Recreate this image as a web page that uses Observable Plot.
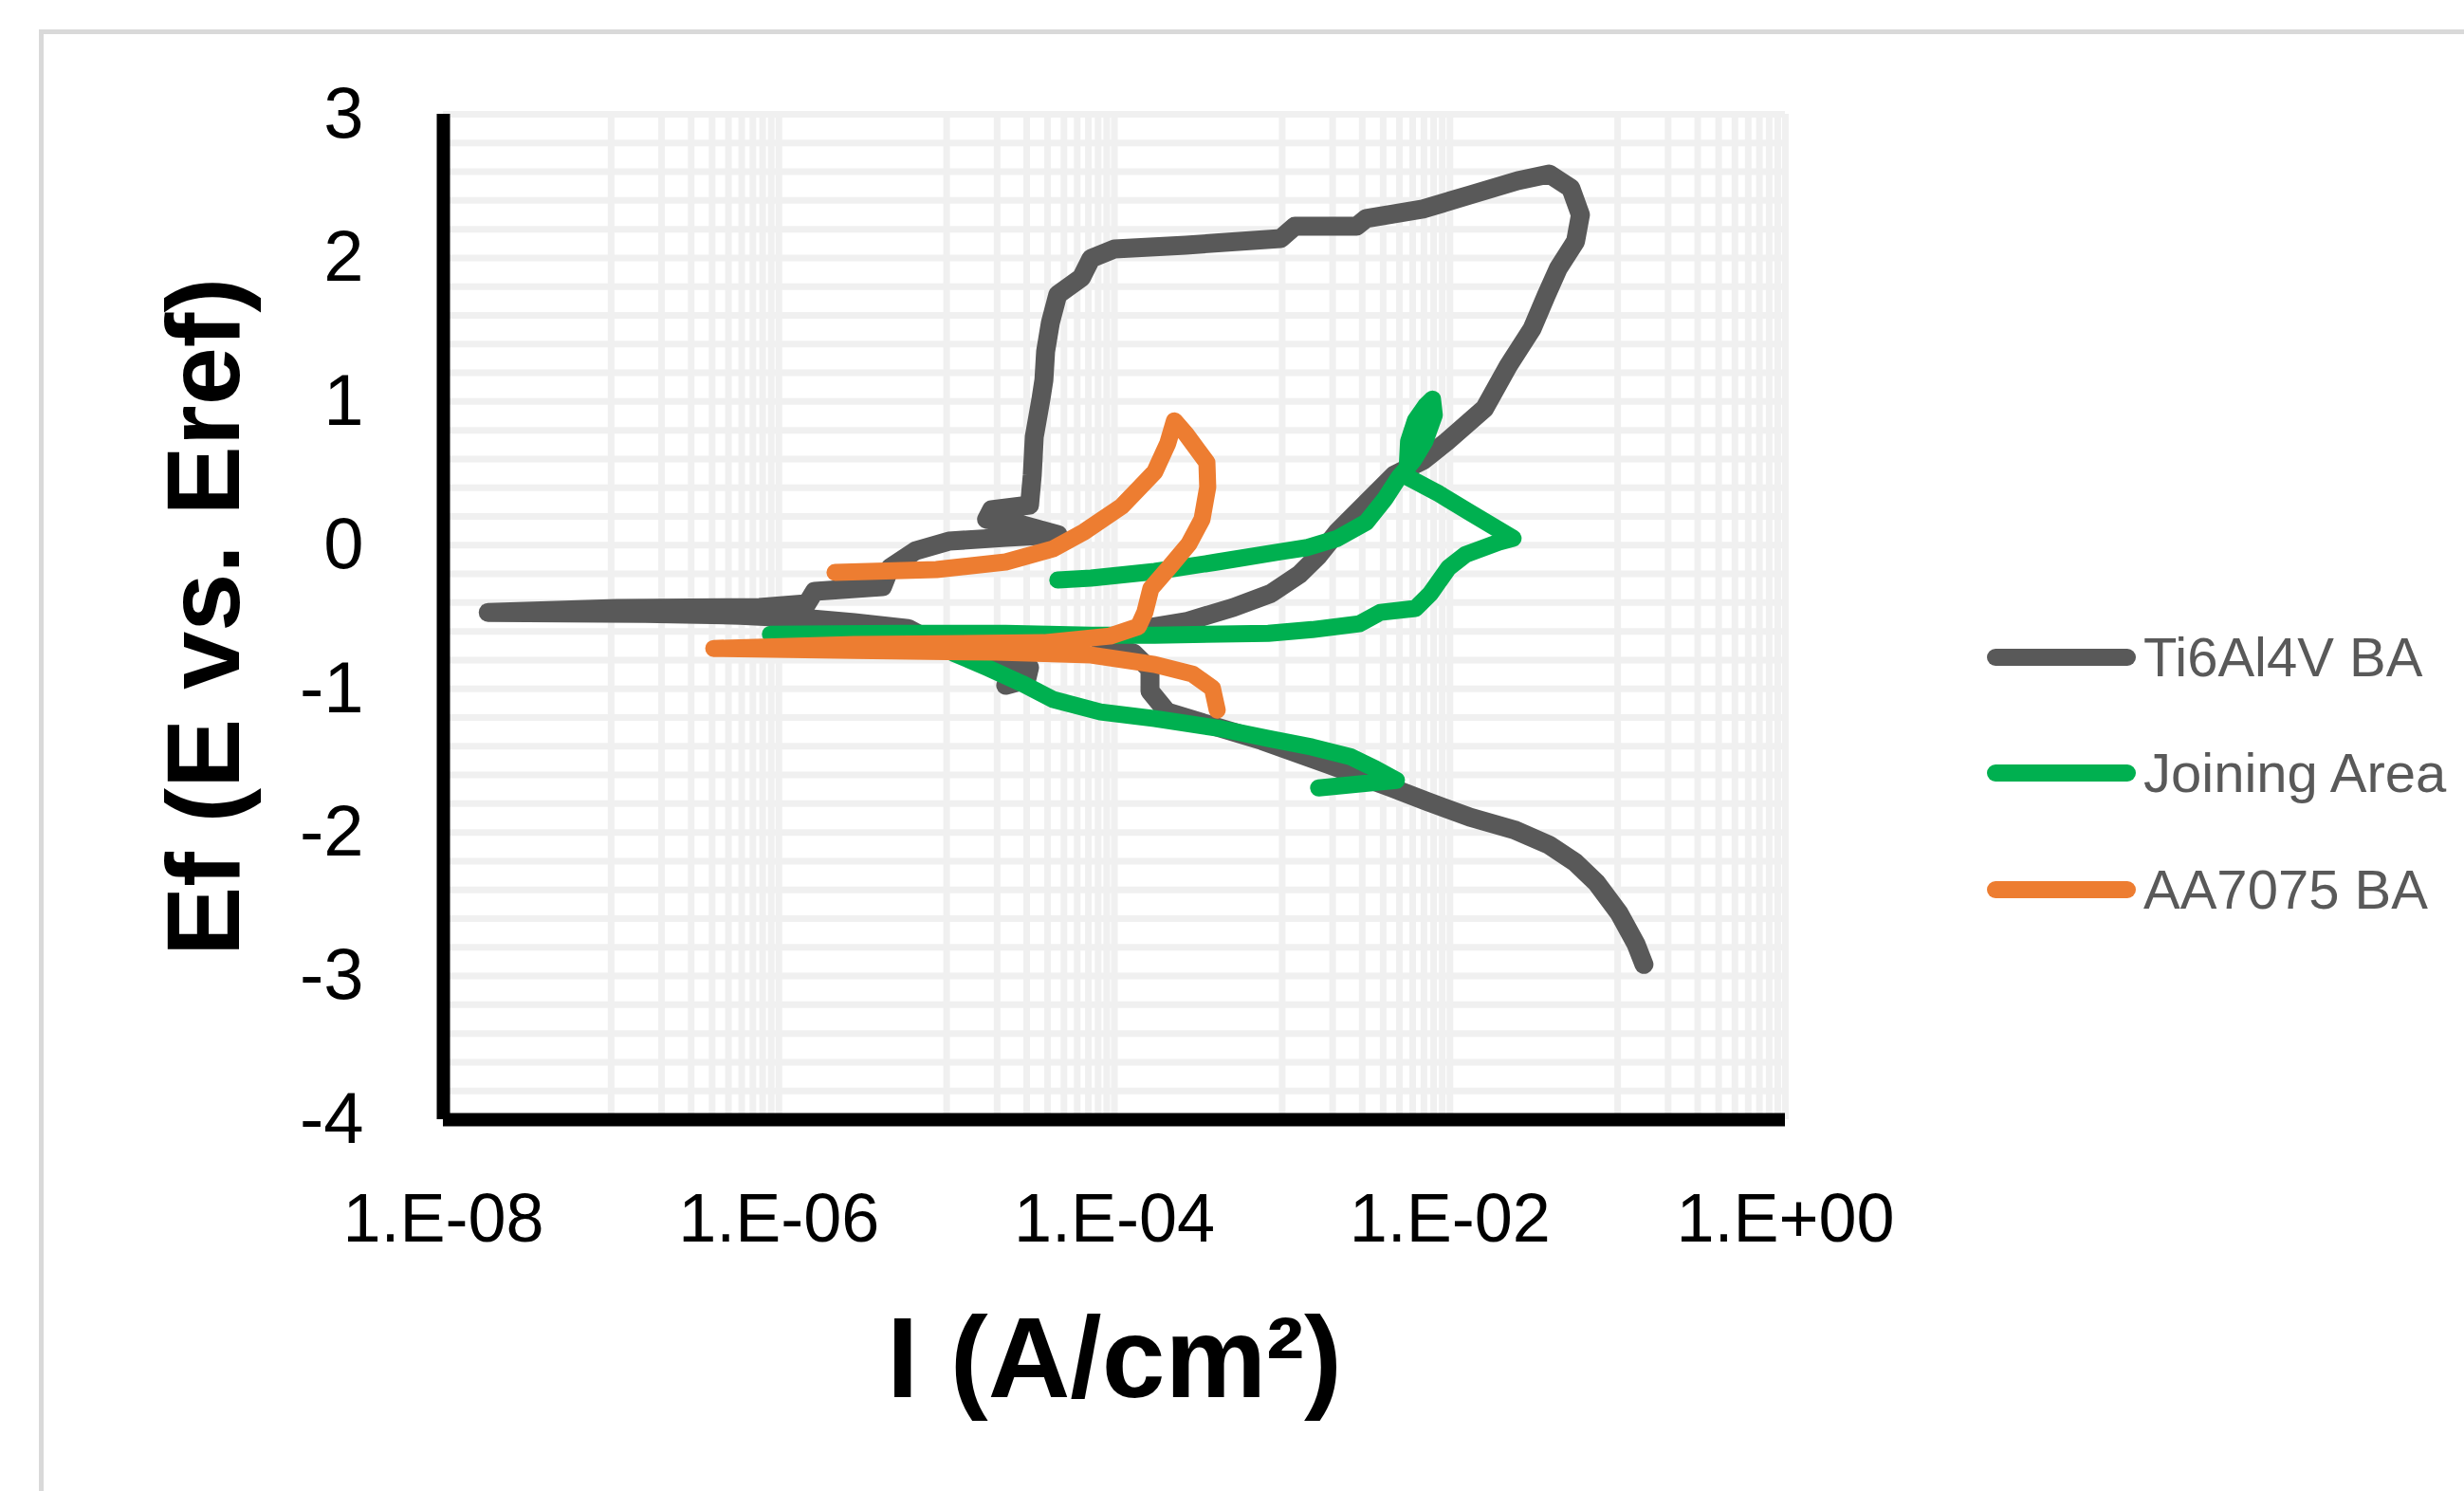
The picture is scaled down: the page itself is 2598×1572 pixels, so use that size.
<!DOCTYPE html>
<html>
<head>
<meta charset="utf-8">
<script src="https://cdn.jsdelivr.net/npm/d3@7"></script>
<script src="https://cdn.jsdelivr.net/npm/@observablehq/plot@0.6"></script>
<style>
  html, body { margin: 0; padding: 0; background: #ffffff; }
  #wrap { position: relative; width: 2598px; height: 1572px; overflow: hidden; font-family: "Liberation Sans", Arial, sans-serif; }
  #frame { position: absolute; left: 41px; top: 31px; width: 3000px; height: 3000px; border-left: 5px solid #d9d9d9; border-top: 5px solid #d9d9d9; }
  #chart { position: absolute; left: 0; top: 0; }
  .lg-row { position: absolute; left: 2095px; height: 60px; display: flex; align-items: center; }
  .lg-sw { width: 157px; height: 18px; border-radius: 9px; }
  .lg-tx { margin-left: 8px; font-size: 58px; line-height: 60px; color: #595959; white-space: nowrap; }
</style>
</head>
<body>
<div id="wrap">
  <div id="frame"></div>
  <div id="chart"></div>
  <div id="legend"></div>
</div>
<script>
// ---- Data ----
const seriesNames = ["Ti6Al4V BA", "Joining Area", "AA7075 BA"];
const seriesColors = ["#595959", "#00b050", "#ed7d31"];

// Ti6Al4V BA : current density (A/cm2) and potential (V)
const tiI = [2.25e-5, 3.0e-5, 3.12e-5, 1.98e-5, 1.03e-5, 5.89e-6, 2.81e-6, 1.61e-6, 5.89e-7, 1.6e-7,
  1.85e-8, 1.08e-7, 7.66e-7, 1.47e-6, 1.63e-6, 4.15e-6, 4.6e-6, 6.55e-6, 1.03e-5, 2.25e-5,
  4.6e-5, 2.73e-5, 1.73e-5, 1.85e-5, 3.12e-5, 3.24e-5, 3.33e-5, 3.65e-5, 3.8e-5, 3.89e-5,
  4.15e-5, 4.6e-5, 6.37e-5, 7.26e-5, 1.0e-4, 2.67e-4, 9.8e-4, 1.19e-3, 2.78e-3, 3.17e-3,
  6.9e-3, 1.32e-2, 2.54e-2, 3.9e-2, 5.26e-2, 6.0e-2, 5.61e-2, 4.44e-2, 3.75e-2, 3.09e-2,
  2.23e-2, 1.61e-2, 9.57e-3, 6.9e-3, 4.67e-3, 3.16e-3, 2.14e-3, 1.65e-3, 1.27e-3, 8.6e-4,
  5.11e-4, 2.67e-4, 1.39e-4, 8.26e-5, 1.3e-4, 1.63e-4, 1.63e-4, 2.06e-4, 3.46e-4, 7.55e-4,
  1.88e-3, 4.5e-3, 7.28e-3, 1.32e-2, 2.41e-2, 3.9e-2, 5.55e-2, 7.48e-2, 0.102, 0.129, 0.1435];
const tiE = [-0.976, -0.936, -0.851, -0.798, -0.732, -0.580, -0.540, -0.514, -0.488, -0.475,
  -0.468, -0.441, -0.434, -0.407, -0.322, -0.289, -0.157, -0.038, 0.028, 0.054,
  0.074, 0.147, 0.180, 0.246, 0.279, 0.490, 0.754, 1.018, 1.150, 1.348,
  1.547, 1.745, 1.864, 1.996, 2.062, 2.089, 2.135, 2.221, 2.221, 2.274,
  2.340, 2.439, 2.538, 2.584, 2.485, 2.300, 2.115, 1.930, 1.738, 1.507,
  1.249, 0.952, 0.721, 0.589, 0.490, 0.292, 0.094, -0.071, -0.203, -0.335,
  -0.434, -0.533, -0.586, -0.685, -0.751, -0.864, -1.016, -1.161, -1.241, -1.360,
  -1.525, -1.690, -1.783, -1.895, -1.981, -2.087, -2.206, -2.351, -2.562, -2.780, -2.919];

// Joining Area
const jaI = [1.65e-3, 4.8e-3, 3.6e-3, 2.54e-3, 1.51e-3, 8.27e-4, 4.1e-4, 1.74e-4, 8.26e-5, 4.31e-5,
  2.81e-5, 1.73e-5, 1.1e-5, 7.43e-6, 4.14e-6, 8.9e-7, 5.37e-6, 2.25e-5, 7.26e-5, 1.74e-4,
  8.27e-4, 1.51e-3, 2.89e-3, 3.85e-3, 6.22e-3, 7.67e-3, 9.82e-3, 1.24e-2, 1.96e-2, 2.38e-2,
  1.32e-2, 8.61e-3, 5.53e-3, 5.67e-3, 6.22e-3, 7.18e-3, 7.87e-3, 8.07e-3, 7.08e-3, 6.05e-3,
  4.99e-3, 4.11e-3, 3.17e-3, 2.14e-3, 1.39e-3, 9.8e-4, 4.1e-4, 1.74e-4, 7.26e-5, 4.6e-5];
const jaE = [-1.690, -1.637, -1.558, -1.472, -1.406, -1.346, -1.273, -1.207, -1.161, -1.075,
  -0.963, -0.851, -0.752, -0.659, -0.626, -0.620, -0.614, -0.614, -0.627, -0.627,
  -0.614, -0.588, -0.547, -0.468, -0.441, -0.335, -0.157, -0.065, 0.021, 0.048,
  0.226, 0.358, 0.477, 0.721, 0.867, 0.972, 1.018, 0.906, 0.721, 0.589,
  0.477, 0.325, 0.160, 0.048, -0.018, -0.045, -0.117, -0.183, -0.229, -0.243];

// AA7075 BA
const aaI = [4.1e-4, 3.84e-4, 2.92e-4, 1.74e-4, 7.26e-5, 1.98e-5, 2.81e-6, 4.09e-7, 2.81e-6, 3.79e-5,
  9.42e-5, 1.39e-4, 1.52e-4, 1.65e-4, 2.14e-4, 2.78e-4, 3.33e-4, 3.6e-4, 3.56e-4, 2.67e-4,
  2.28e-4, 2.08e-4, 1.74e-4, 1.11e-4, 6.62e-5, 4.31e-5, 2.25e-5, 8.69e-6, 2.16e-6];
const aaE = [-1.148, -0.996, -0.897, -0.831, -0.765, -0.745, -0.732, -0.719, -0.692, -0.679,
  -0.633, -0.567, -0.467, -0.302, -0.150, 0.008, 0.180, 0.404, 0.576, 0.774,
  0.866, 0.708, 0.510, 0.272, 0.094, -0.025, -0.117, -0.170, -0.190];

// Axes
const xTicks = [1e-8, 1e-6, 1e-4, 1e-2, 1];
const xTickLabels = ["1.E-08", "1.E-06", "1.E-04", "1.E-02", "1.E+00"];
const yTicks = [-4, -3, -2, -1, 0, 1, 2, 3];
const xTitle = "I (A/cm²)";
const yTitle = "Ef (E vs. Eref)";

// Gridlines: major every 2 decades, minor 1..9 x 10^odd decades; horizontal every 0.2 V
const minorDecades = [-7, -5, -3, -1];
const minorMults = [1, 2, 3, 4, 5, 6, 7, 8, 9];
const xGrid = xTicks.concat(minorDecades.flatMap(e => minorMults.map(k => k * Math.pow(10, e))));
const yGrid = d3.range(0, 36).map(i => -4 + i * 0.2);

// ---- Build tables ----
const toRows = (I, E) => I.map((v, i) => ({I: v, E: E[i]}));
const tiRows = toRows(tiI, tiE);
const jaRows = toRows(jaI, jaE);
const aaRows = toRows(aaI, aaE);

const lineOpts = (color, w) => ({x: "I", y: "E", stroke: color, strokeWidth: w,
  strokeLinecap: "round", strokeLinejoin: "round", curve: "linear"});

const plot = Plot.plot({
  width: 2598,
  height: 1572,
  marginLeft: 467,
  marginRight: 716,
  marginTop: 120,
  marginBottom: 392,
  x: {type: "log", domain: [1e-8, 1]},
  y: {domain: [-4, 3]},
  style: {fontFamily: '"Liberation Sans", Arial, sans-serif', background: "transparent", color: "black"},
  marks: [
    Plot.ruleY(yGrid, {stroke: "#f0f0f0", strokeWidth: 7}),
    Plot.ruleX(xGrid, {stroke: "#f0f0f0", strokeWidth: 7}),
    Plot.line(tiRows, lineOpts(seriesColors[0], 20)),
    Plot.line(jaRows, lineOpts(seriesColors[1], 18)),
    Plot.line(aaRows, lineOpts(seriesColors[2], 18)),
    Plot.ruleX([1e-8], {stroke: "black", strokeWidth: 14}),
    Plot.ruleY([-4], {stroke: "black", strokeWidth: 14}),
    Plot.axisY(yTicks, {tickSize: 0, tickPadding: 84, fontSize: 76, label: null,
      tickFormat: d => String(d)}),
    Plot.axisX(xTicks, {tickSize: 0, tickPadding: 77, fontSize: 72, label: null,
      tickFormat: d => xTickLabels[xTicks.indexOf(d)]}),
    Plot.text([xTitle], {text: d => d, frameAnchor: "bottom", dy: 254, fontSize: 120,
      fontWeight: "bold", fill: "black", textAnchor: "middle", lineAnchor: "middle"}),
    Plot.text([yTitle], {text: d => d, frameAnchor: "left", dx: -251, rotate: -90,
      fontSize: 110, fontWeight: "bold", fill: "black", textAnchor: "middle", lineAnchor: "middle"})
  ]
});
document.getElementById("chart").appendChild(plot);

// ---- Legend ----
const legendCenters = [693, 815, 938];
const legend = document.getElementById("legend");
seriesNames.forEach((name, i) => {
  const row = document.createElement("div");
  row.className = "lg-row";
  row.style.top = (legendCenters[i] - 30) + "px";
  const sw = document.createElement("div");
  sw.className = "lg-sw";
  sw.style.background = seriesColors[i];
  const tx = document.createElement("div");
  tx.className = "lg-tx";
  tx.textContent = name;
  row.appendChild(sw);
  row.appendChild(tx);
  legend.appendChild(row);
});
</script>
</body>
</html>
